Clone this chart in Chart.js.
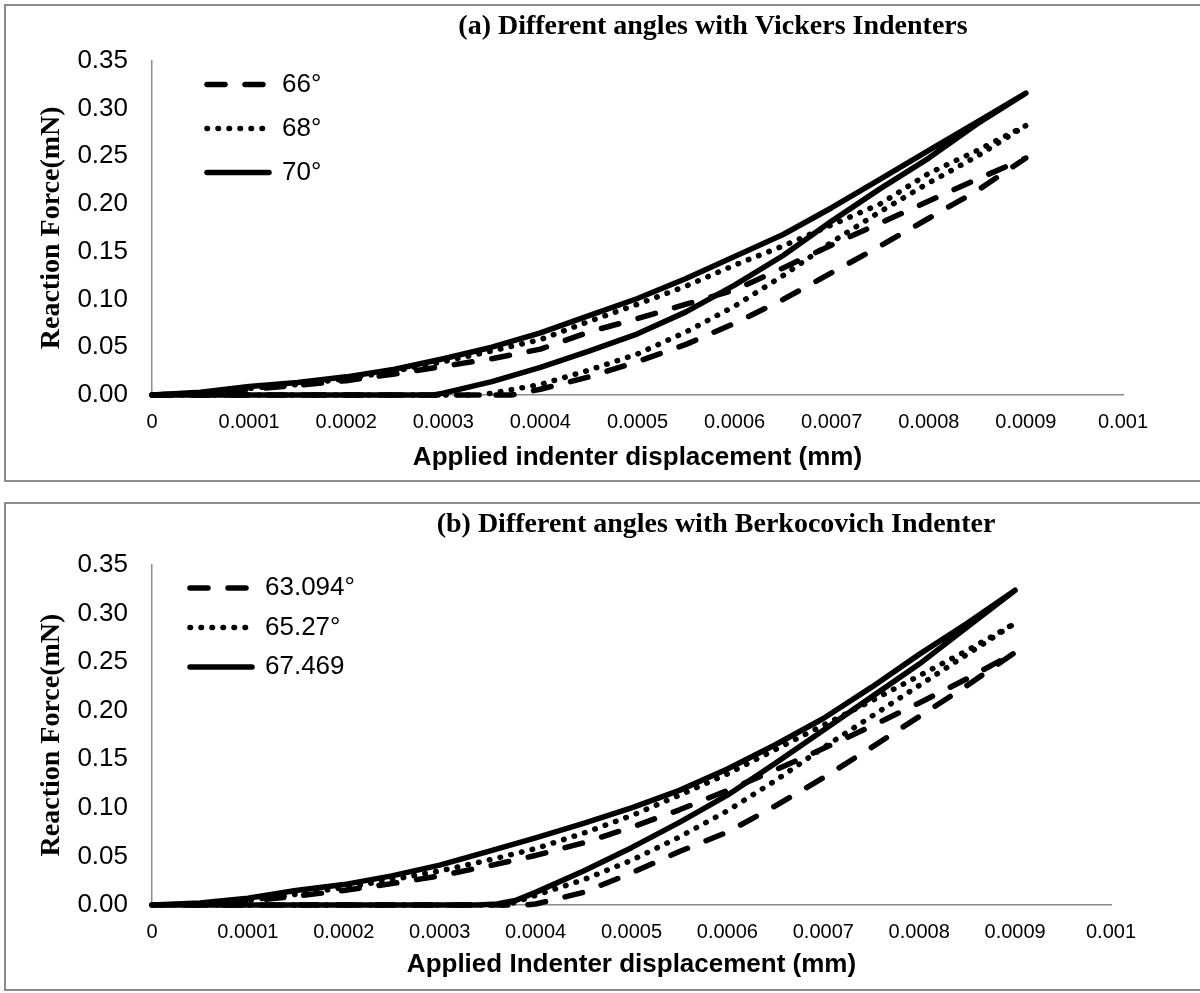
<!DOCTYPE html>
<html>
<head>
<meta charset="utf-8">
<title>Reaction force vs indenter displacement</title>
<script src="https://cdn.jsdelivr.net/npm/chart.js@4.4.1/dist/chart.umd.min.js"></script>
<style>
  html, body { margin: 0; padding: 0; background: #fff; }
  body { position: relative; width: 1200px; height: 993px; overflow: hidden; }
  .frame { position: absolute; border: 2px solid #8c8c8c; box-sizing: border-box; }
  canvas { position: absolute; left: 0; }
</style>
</head>
<body>
<div class="frame" style="left:4px; top:4px; width:1200px; height:478px;"></div>
<div class="frame" style="left:4px; top:502px; width:1200px; height:489px;"></div>
<canvas id="chartA" width="1200" height="481" style="top:0"></canvas>
<canvas id="chartB" width="1200" height="500" style="top:490px"></canvas>

<script>
// axis ticks (same for both panels)
const xTicks = [0, 0.0001, 0.0002, 0.0003, 0.0004, 0.0005, 0.0006, 0.0007, 0.0008, 0.0009, 0.001];
const xTickLabels = ['0', '0.0001', '0.0002', '0.0003', '0.0004', '0.0005', '0.0006', '0.0007', '0.0008', '0.0009', '0.001'];
const yTicks = [0, 0.05, 0.1, 0.15, 0.2, 0.25, 0.3, 0.35];
const yTickLabels = ['0.00', '0.05', '0.10', '0.15', '0.20', '0.25', '0.30', '0.35'];

// loading branch displacement (mm)
const loadX = [0, 0.00005, 0.0001, 0.00015, 0.0002, 0.00025, 0.0003, 0.00035, 0.0004, 0.00045,
  0.0005, 0.00055, 0.0006, 0.00065, 0.0007, 0.00075, 0.0008, 0.00085, 0.0009];

// (a) Vickers
const aLabels = ['66°', '68°', '70°'];
const aLoad66 = [0, 0.002, 0.006, 0.01, 0.015, 0.022, 0.03, 0.038, 0.048, 0.066, 0.08, 0.095, 0.11, 0.133, 0.157, 0.18, 0.203, 0.226, 0.248];
const aLoad68 = [0, 0.002, 0.007, 0.011, 0.017, 0.025, 0.035, 0.046, 0.058, 0.077, 0.095, 0.114, 0.136, 0.156, 0.178, 0.2, 0.232, 0.256, 0.282];
const aLoad70 = [0, 0.003, 0.009, 0.013, 0.019, 0.027, 0.038, 0.05, 0.065, 0.083, 0.101, 0.122, 0.145, 0.168, 0.196, 0.226, 0.256, 0.286, 0.316];
const aUnloadX66 = [0.0009, 0.00085, 0.0008, 0.00075, 0.0007, 0.00065, 0.0006, 0.00055, 0.0005, 0.00045, 0.0004, 0.00037, 0];
const aUnload66 = [0.248, 0.214, 0.185, 0.156, 0.128, 0.1, 0.075, 0.053, 0.035, 0.019, 0.006, 0, 0];
const aUnloadX68 = [0.0009, 0.00085, 0.0008, 0.00075, 0.0007, 0.00065, 0.0006, 0.00055, 0.0005, 0.00045, 0.0004, 0.00035, 0.00034, 0];
const aUnload68 = [0.282, 0.25, 0.222, 0.192, 0.16, 0.125, 0.093, 0.066, 0.043, 0.026, 0.011, 0.002, 0, 0];
const aUnloadX70 = [0.0009, 0.00085, 0.0008, 0.00075, 0.0007, 0.00065, 0.0006, 0.00055, 0.0005, 0.00045, 0.0004, 0.00035, 0.0003, 0.00029, 0];
const aUnload70 = [0.316, 0.284, 0.248, 0.216, 0.182, 0.146, 0.115, 0.087, 0.064, 0.046, 0.029, 0.014, 0.002, 0, 0];

// (b) Berkovich
const bLabels = ['63.094°', '65.27°', '67.469'];
const bLoad63 = [0, 0.001, 0.004, 0.009, 0.015, 0.022, 0.03, 0.04, 0.051, 0.064, 0.08, 0.098, 0.118, 0.139, 0.161, 0.184, 0.208, 0.233, 0.26];
const bLoad65 = [0, 0.001, 0.005, 0.011, 0.018, 0.026, 0.035, 0.046, 0.058, 0.074, 0.092, 0.113, 0.135, 0.16, 0.185, 0.21, 0.236, 0.262, 0.29];
const bLoad67 = [0, 0.002, 0.007, 0.015, 0.021, 0.03, 0.041, 0.055, 0.069, 0.084, 0.1, 0.118, 0.14, 0.165, 0.192, 0.224, 0.258, 0.29, 0.324];
const bUnloadX63 = [0.0009, 0.00085, 0.0008, 0.00075, 0.0007, 0.00065, 0.0006, 0.00055, 0.0005, 0.00045, 0.0004, 0.00039, 0];
const bUnload63 = [0.26, 0.226, 0.194, 0.162, 0.131, 0.102, 0.075, 0.055, 0.033, 0.013, 0.001, 0, 0];
const bUnloadX65 = [0.0009, 0.00085, 0.0008, 0.00075, 0.0007, 0.00065, 0.0006, 0.00055, 0.0005, 0.00045, 0.0004, 0.00037, 0];
const bUnload65 = [0.29, 0.258, 0.226, 0.194, 0.162, 0.128, 0.097, 0.07, 0.046, 0.026, 0.01, 0, 0];
const bUnloadX67 = [0.0009, 0.00085, 0.0008, 0.00075, 0.0007, 0.00065, 0.0006, 0.00055, 0.0005, 0.00045, 0.0004, 0.00038, 0.00036, 0.00034, 0];
const bUnload67 = [0.324, 0.286, 0.248, 0.214, 0.18, 0.146, 0.113, 0.085, 0.059, 0.035, 0.013, 0.005, 0.001, 0, 0];

const SANS = '"Liberation Sans", Arial, sans-serif';
const SERIF = '"Liberation Serif", "Times New Roman", serif';
const LINE_W = 5.5;
const DASHED = [18, 20];
const DOTTED = [0.5, 10.5];
const SOLID = [];

function toPoints(xs, ys) {
  return xs.map((x, i) => ({ x: x, y: ys[i] }));
}

function series(label, load, unloadX, unload, dash) {
  return {
    label: label,
    data: toPoints(loadX, load).concat(toPoints(unloadX, unload)),
    showLine: true,
    borderColor: '#000',
    backgroundColor: '#000',
    borderWidth: LINE_W,
    borderDash: dash,
    borderCapStyle: 'round',
    borderJoinStyle: 'round',
    pointRadius: 0,
    pointHoverRadius: 0,
    tension: 0,
    clip: false
  };
}

// legend samples must keep the dataset's dash pattern
function legendLabels(chart) {
  return chart.data.datasets.map((ds, i) => ({
    text: ds.label,
    datasetIndex: i,
    hidden: false,
    fillStyle: '#000',
    strokeStyle: '#000',
    fontColor: '#000',
    lineWidth: ds.borderWidth,
    lineDash: ds.borderDash,
    lineCap: 'round',
    pointStyle: 'line'
  }));
}

// moves the title / in-plot legend to where the original figure has them
const placeBlocks = {
  id: 'placeBlocks',
  afterLayout(chart, args, opts) {
    const t = chart.titleBlock;
    if (t && opts.titleCx) {
      const w = t.right - t.left;
      t.left = opts.titleCx - w / 2;
      t.right = opts.titleCx + w / 2;
    }
    const lg = chart.legend;
    const area = chart.chartArea;
    if (lg) {
      lg.left = area.left + (opts.legendDx || 0);
      lg.top = area.top + (opts.legendDy || 0);
      lg.bottom = area.bottom;
    }
  }
};

function makeChart(id, g, datasets, title, xTitle) {
  return new Chart(document.getElementById(id), {
    type: 'scatter',
    data: { datasets: datasets },
    plugins: [placeBlocks],
    options: {
      responsive: false,
      animation: false,
      devicePixelRatio: 1,
      layout: { padding: { left: g.padLeft, top: g.padTop, right: g.padRight, bottom: 0 } },
      plugins: {
        tooltip: { enabled: false },
        title: {
          display: true,
          text: title,
          color: '#000',
          font: { family: SERIF, size: 28, weight: 'bold' },
          padding: { top: g.titleTop, bottom: g.titleBottom }
        },
        legend: {
          position: 'chartArea',
          align: 'start',
          labels: {
            usePointStyle: true,
            pointStyle: 'line',
            pointStyleWidth: 62,
            color: '#000',
            font: { family: SANS, size: 26 },
            padding: g.legendPad,
            generateLabels: legendLabels
          }
        },
        placeBlocks: { titleCx: g.titleCx, legendDx: g.legendDx, legendDy: g.legendDy }
      },
      scales: {
        x: {
          type: 'linear',
          min: 0,
          max: 0.001,
          afterBuildTicks: s => { s.ticks = xTicks.map(v => ({ value: v })); },
          afterFit: s => { s.height = g.xHeight; },
          grid: { display: false, drawTicks: false },
          border: { color: '#8c8c8c', width: 1.5 },
          ticks: {
            autoSkip: false,
            maxRotation: 0,
            padding: 15,
            color: '#000',
            font: { family: SANS, size: 20 },
            callback: (v, i) => xTickLabels[i]
          },
          title: {
            display: true,
            text: xTitle,
            color: '#000',
            font: { family: SANS, size: 26, weight: 'bold' },
            padding: { top: 0, bottom: g.xTitleBottom }
          }
        },
        y: {
          type: 'linear',
          min: 0,
          max: 0.35,
          afterBuildTicks: s => { s.ticks = yTicks.map(v => ({ value: v })); },
          afterFit: s => { s.width = g.yWidth; },
          grid: { display: false, drawTicks: false },
          border: { color: '#8c8c8c', width: 1.5 },
          ticks: {
            padding: 24,
            color: '#000',
            font: { family: SANS, size: 26 },
            callback: (v, i) => yTickLabels[i]
          },
          title: {
            display: true,
            text: 'Reaction Force(mN)',
            color: '#000',
            font: { family: SERIF, size: 28, weight: 'bold' },
            padding: { top: 15, bottom: 0 }
          }
        }
      }
    }
  });
}

makeChart('chartA', {
  padLeft: 20, padTop: 5, padRight: 77, titleTop: 5, titleBottom: 17,
  yWidth: 132, xHeight: 86, xTitleBottom: 7.4,
  legendPad: 18, legendDx: 37, legendDy: -7, titleCx: 713
}, [
  series(aLabels[0], aLoad66, aUnloadX66, aUnload66, DASHED),
  series(aLabels[1], aLoad68, aUnloadX68, aUnload68, DOTTED),
  series(aLabels[2], aLoad70, aUnloadX70, aUnload70, SOLID)
], '(a) Different angles with Vickers Indenters', 'Applied indenter displacement (mm)');

makeChart('chartB', {
  padLeft: 20, padTop: 13, padRight: 89, titleTop: 5.2, titleBottom: 23.2,
  yWidth: 132, xHeight: 85, xTitleBottom: 9.4,
  legendPad: 13.5, legendDx: 24.5, legendDy: -3.5, titleCx: 716
}, [
  series(bLabels[0], bLoad63, bUnloadX63, bUnload63, DASHED),
  series(bLabels[1], bLoad65, bUnloadX65, bUnload65, DOTTED),
  series(bLabels[2], bLoad67, bUnloadX67, bUnload67, SOLID)
], '(b) Different angles with Berkocovich Indenter', 'Applied Indenter displacement (mm)');
</script>
</body>
</html>
